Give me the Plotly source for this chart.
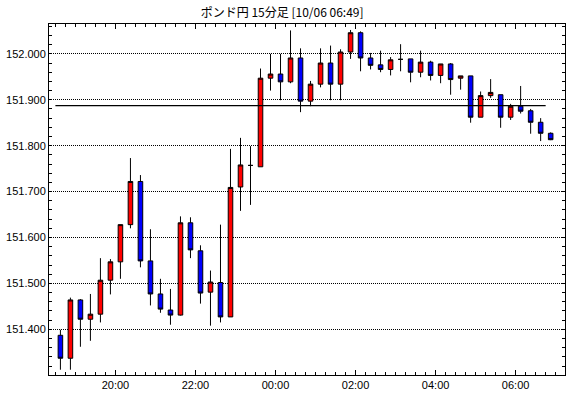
import pandas as pd
import plotly.graph_objects as go

title_text = "ポンド円 15分足 [10/06 06:49]"
start_time = "2021-10-05 18:30"
bar_minutes = 15

open_ = [151.387, 151.337, 151.464, 151.422, 151.433, 151.507, 151.547, 151.628, 151.722, 151.549,
         151.477, 151.442, 151.431, 151.632, 151.571, 151.481, 151.502, 151.427, 151.710, 151.757,
         151.754, 151.947, 151.956, 151.939, 151.991, 151.897, 151.934, 151.980, 151.934, 152.004,
         152.046, 151.991, 151.976, 151.966, 151.988, 151.989, 151.960, 151.982, 151.953, 151.978,
         151.947, 151.952, 151.862, 151.909, 151.911, 151.862, 151.886, 151.876, 151.851, 151.827]
high = [151.399, 151.469, 151.466, 151.477, 151.555, 151.553, 151.628, 151.773, 151.736, 151.618,
        151.510, 151.488, 151.646, 151.644, 151.583, 151.528, 151.628, 151.793, 151.817, 151.799,
        151.968, 152.000, 152.000, 152.051, 152.012, 151.941, 152.012, 152.018, 152.010, 152.052,
        152.049, 152.002, 152.007, 151.993, 152.021, 151.989, 152.007, 151.985, 151.978, 151.980,
        151.952, 151.952, 151.918, 151.945, 151.911, 151.891, 151.930, 151.880, 151.860, 151.829]
low = [151.312, 151.312, 151.362, 151.375, 151.415, 151.476, 151.510, 151.620, 151.535, 151.452,
       151.436, 151.410, 151.430, 151.555, 151.456, 151.408, 151.415, 151.427, 151.658, 151.671,
       151.754, 151.920, 151.899, 151.936, 151.873, 151.886, 151.927, 151.899, 151.899, 151.989,
       151.962, 151.966, 151.960, 151.953, 151.962, 151.938, 151.949, 151.942, 151.936, 151.911,
       151.922, 151.850, 151.862, 151.904, 151.839, 151.856, 151.870, 151.826, 151.810, 151.812]
close = [151.337, 151.464, 151.422, 151.433, 151.507, 151.547, 151.628, 151.722, 151.549, 151.477,
         151.444, 151.431, 151.632, 151.573, 151.479, 151.503, 151.427, 151.709, 151.758, 151.757,
         151.947, 151.956, 151.939, 151.991, 151.897, 151.934, 151.980, 151.934, 152.004, 152.046,
         151.991, 151.975, 151.966, 151.987, 151.988, 151.960, 151.982, 151.953, 151.978, 151.944,
         151.952, 151.862, 151.909, 151.916, 151.862, 151.886, 151.875, 151.851, 151.827, 151.813]
ref_level = 151.887

y_range = [151.3005, 152.065]
x_range = ["2021-10-05 18:20:24", "2021-10-06 07:14:00"]
x_tick0 = "2021-10-05 20:00"

times = pd.date_range(start_time, periods=len(open_), freq=f"{bar_minutes}min")

fig = go.Figure()
fig.add_trace(go.Candlestick(
    x=times, open=open_, high=high, low=low, close=close,
    xperiod=bar_minutes * 60000, xperiodalignment="middle",
    increasing=dict(line=dict(color="black", width=1), fillcolor="#ff0000"),
    decreasing=dict(line=dict(color="black", width=1), fillcolor="#0000ff"),
    whiskerwidth=0, showlegend=False, hoverinfo="skip",
))

fig.add_shape(type="line", xref="x", yref="y",
              x0=times[0], x1=times[-1], y0=ref_level, y1=ref_level,
              line=dict(color="black", width=1.2))

fig.update_layout(
    width=570, height=398,
    margin=dict(l=49, r=5, t=24, b=23, autoexpand=False),
    paper_bgcolor="white", plot_bgcolor="white",
    font=dict(family="Liberation Sans, Arial, sans-serif", size=11, color="black"),
    title=dict(text=title_text, x=0.495, xanchor="center", y=0.967, yanchor="middle",
               font=dict(family="Noto Sans CJK JP", size=12, color="black")),
    boxgap=0.35,
    hovermode=False,
)
fig.update_xaxes(
    type="date", range=x_range, rangeslider=dict(visible=False), automargin=False,
    tick0=x_tick0, dtick=7200000, tickformat="%H:%M",
    ticks="inside", ticklen=5, tickcolor="black", tickwidth=1,
    minor=dict(dtick=bar_minutes * 60000, ticks="inside", ticklen=3, tickcolor="black", showgrid=False),
    showline=True, linecolor="black", linewidth=1, mirror="ticks",
    showgrid=False, zeroline=False,
    tickfont=dict(size=11),
)
fig.update_yaxes(
    range=y_range, dtick=0.1, tick0=152.0, tickformat=".3f", automargin=False,
    ticks="inside", ticklen=3, tickcolor="black",
    minor=dict(dtick=0.02, ticks="inside", ticklen=3, tickcolor="black", showgrid=False),
    showline=True, linecolor="black", linewidth=1, mirror="ticks",
    showgrid=True, gridcolor="black", gridwidth=1, griddash="1px,1px",
    zeroline=False, tickfont=dict(size=11),
)

fig.write_html("out.html", config={"displayModeBar": False},
               post_script="document.body.style.margin='0';document.body.style.padding='0';")
